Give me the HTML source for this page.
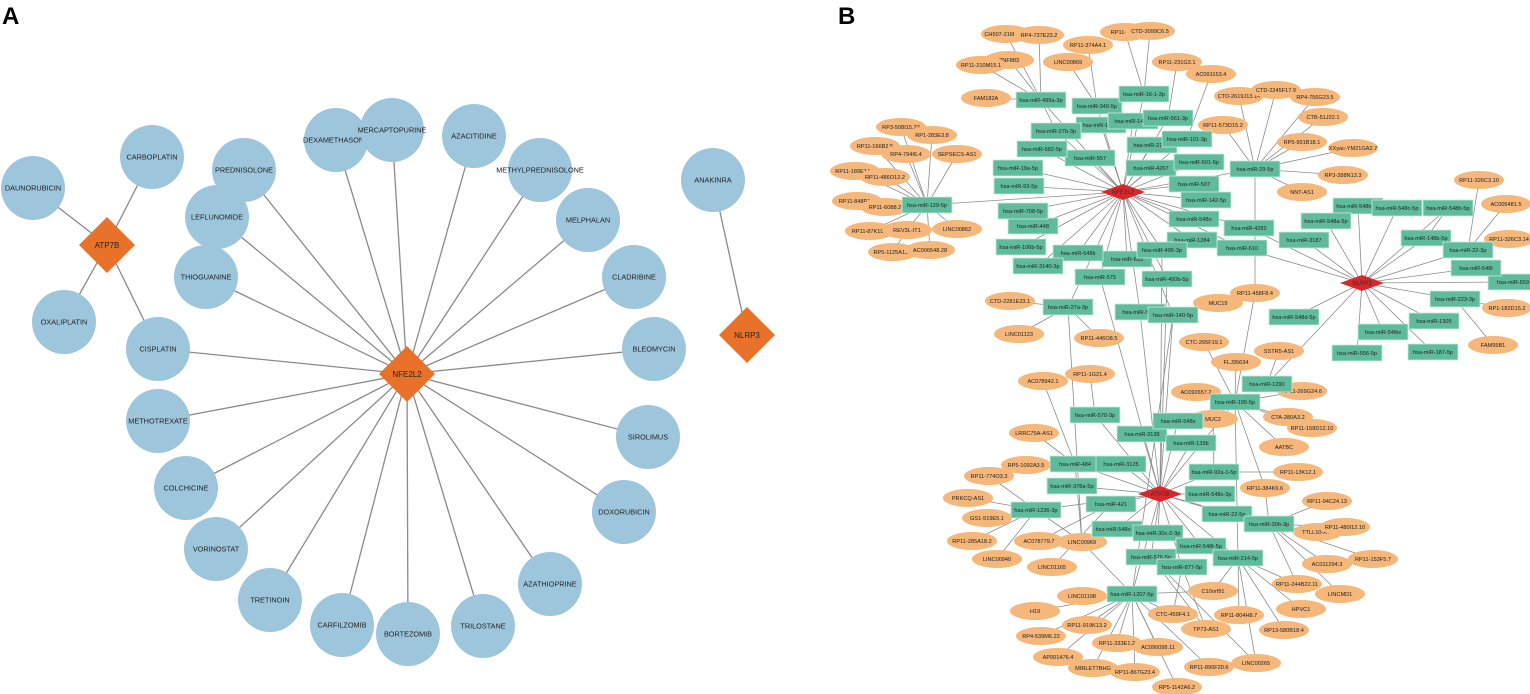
<!DOCTYPE html>
<html><head><meta charset="utf-8"><style>
html,body{margin:0;padding:0;background:#fff;}
svg{display:block;font-family:"Liberation Sans",Arial,sans-serif;}
</style></head><body>
<svg id="s" width="1530" height="694" xmlns="http://www.w3.org/2000/svg">
<text x="2" y="24" font-size="24" font-weight="bold">A</text>
<text x="838" y="24" font-size="24" font-weight="bold">B</text>
<g id="e"></g><g id="n"></g>
</svg>
<script>
const NS="http://www.w3.org/2000/svg";
const E=document.getElementById('e'),N=document.getElementById('n');
function el(t,a,p){const x=document.createElementNS(NS,t);for(const k in a)x.setAttribute(k,a[k]);p.appendChild(x);return x;}
function line(a,b,w,c){el('line',{x1:a[0],y1:a[1],x2:b[0],y2:b[1],stroke:c,'stroke-width':w},E);}
function txt(x,y,s,fs,col){const t=el('text',{x:x,y:y+fs*0.35,'font-size':fs,'text-anchor':'middle',fill:col||'#222'},N);t.textContent=s;}
// Panel A
const A={NFE2L2:[407,374],ATP7B:[107,245],NLRP3:[747,335],
DAUNORUBICIN:[33,188],CARBOPLATIN:[152,157],OXALIPLATIN:[64,322],CISPLATIN:[158,349],
DEXAMETHASONE:[336,140],MERCAPTOPURINE:[392,130],AZACITIDINE:[474,136],PREDNISOLONE:[244,170],
METHYLPREDNISOLONE:[540,170],LEFLUNOMIDE:[217,217],MELPHALAN:[588,220],THIOGUANINE:[206,277],
CLADRIBINE:[634,277],BLEOMYCIN:[654,349],METHOTREXATE:[158,421],SIROLIMUS:[648,437],
COLCHICINE:[186,488],DOXORUBICIN:[624,512],VORINOSTAT:[216,549],AZATHIOPRINE:[550,584],
TRETINOIN:[270,600],CARFILZOMIB:[342,625],BORTEZOMIB:[408,634],TRILOSTANE:[483,626],ANAKINRA:[713,180]};
for(const k in A){if(k=='NFE2L2'||k=='ATP7B'||k=='NLRP3'||k=='ANAKINRA')continue;
 if(['DAUNORUBICIN','CARBOPLATIN','OXALIPLATIN'].includes(k))line(A[k],A.ATP7B,1.3,'#8a8a8a');
 else line(A[k],A.NFE2L2,1.3,'#8a8a8a');}
line(A.CISPLATIN,A.ATP7B,1.3,'#8a8a8a');line(A.ANAKINRA,A.NLRP3,1.3,'#8a8a8a');
for(const k in A){const p=A[k];
 if(k=='NFE2L2'||k=='ATP7B'||k=='NLRP3'){const r=28;el('polygon',{points:`${p[0]},${p[1]-r} ${p[0]+r},${p[1]} ${p[0]},${p[1]+r} ${p[0]-r},${p[1]}`,fill:'#e8722a'},N);txt(p[0],p[1],k,8,'#222');}
 else{el('circle',{cx:p[0],cy:p[1],r:32,fill:'#9dc6dc'},N);txt(p[0],p[1],k,7.3);}}
// Panel B
const H={NFE2L2:[1123,192],NLRP3:[1362,283],ATP7B:[1160,494]};
const M={'499a-3p':[1041,100],'340-5p':[1097,106],'16-1-3p':[1144,94],'132-3':[1101,125],'144-3':[1133,121],'561-3p':[1168,118],'27b-3p':[1056,131],'582-5p':[1042,149],'212-3':[1152,145],'557':[1090,158],'4267':[1151,168],'19a-5p':[1018,168],'93-5p':[1019,186],'129-5p':[927,205],'708-5p':[1023,211],'448':[1033,226],'106b-5p':[1021,247],'548k':[1078,253],'633':[1127,259],'495-3p':[1162,250],'3140-3p':[1038,266],'575':[1100,277],'450b-5p':[1167,279],'27a-3p':[1068,307],'3182':[1140,312],'140-5p':[1173,315],
'101-3p':[1187,139],'501-5p':[1199,162],'29-5p':[1255,169],'507':[1194,184],'142-5p':[1206,200],'548n':[1194,219],'4282':[1249,228],'1284':[1192,240],'610':[1242,248],
'548h-5p':[1358,206],'548c-5p':[1397,208],'548b-5p':[1448,208],'548a-5p':[1326,221],'3187':[1304,240],'148b-5p':[1426,238],'22-3p':[1468,250],'548i':[1476,268],'559':[1513,282],'223-3p':[1455,299],'548d-5p':[1294,317],'1305':[1434,321],'548w':[1383,332],'556-5p':[1357,353],'187-5p':[1433,352],'1290':[1267,384],
'570-3p':[1095,415],'3138':[1142,434],'548s':[1178,421],'133b':[1191,443],'195-5p':[1235,402],'484':[1075,464],'3125':[1121,464],'92a-1-5p':[1214,472],'378a-5p':[1072,486],'548x-3p':[1210,494],'1236-3p':[1036,510],'421':[1111,504],'22-5p':[1227,514],'30b-3p':[1269,524],'548c-3p':[1117,529],'30c-2-3p':[1158,533],'548t-5p':[1201,546],'214-5p':[1238,558],'576-5p':[1151,557],'877-5p':[1182,567],'1207-5p':[1132,594]};
const L={'CH507-216K13.2':[1006,34],'RP4-737E23.2':[1039,35],'RP11-374A4.1':[1088,45],'RP11-50B3':[1125,32],'CTD-3099C6.5':[1150,31],'ZNF883':[1009,60],'RP11-210M15.1':[981,65],'LINC00869':[1068,62],'RP11-231G3.1':[1177,62],'FAM182A':[986,98],'RP3-508I15.22':[901,127],'RP1-283E3.8':[932,135],'RP11-166B2.5':[875,146],'RP4-794I6.4':[906,154],'SEPSECS-AS1':[957,154],'RP11-189E14.3':[855,171],'RP11-486O12.2':[885,177],'RP11-848P1.3':[857,201],'RP11-6088.2':[885,207],'RP11-87K19.3':[870,231],'REV3L-IT1':[907,230],'LINC00862':[957,229],'RP5-1125A11.7':[893,252],'AC006548.28':[930,250],'CTD-2281E23.1':[1010,301],'LINC01123':[1019,334],'RP11-446O8.5':[1099,338],
'AC091153.4':[1211,74],'CTD-2619J13.14':[1239,96],'CTD-2245F17.9':[1276,90],'RP4-756G23.5':[1315,97],'CTB-51J22.1':[1323,117],'RP11-573D15.2':[1223,125],'RP5-991B18.1':[1302,142],'XXyac-YM21GA2.7':[1353,148],'RP3-388N13.3':[1343,175],'NNT-AS1':[1302,192],'RP11-326C3.10':[1479,180],'AC005481.5':[1506,204],'RP11-326C3.14':[1509,239],'RP11-458F8.4':[1255,293],'MUC19':[1218,303],'RP1-182D15.2':[1507,308],'CTC-265F19.1':[1204,342],'FAM95B1':[1493,345],'SSTR5-AS1':[1279,351],'FLJ35634':[1236,362],'RP11-269G24.6':[1302,391],'AC092657.2':[1196,392],
'AC078942.1':[1043,381],'RP11-1G21.4':[1090,374],'MUC2':[1213,419],'CTA-280A3.2':[1288,417],'RP11-158D12.10':[1312,428],'AATBC':[1284,447],'LRRC75A-AS1':[1034,433],'RP5-1092A3.5':[1026,465],'RP11-774O3.3':[989,476],'RP11-13K12.1':[1298,472],'RP11-384K6.6':[1265,488],'PRKCQ-AS1':[968,498],'RP11-94C24.13':[1327,501],'GS1-519E5.1':[987,518],'TTLL10-AS1':[1318,532],'RP11-480I12.10':[1345,527],'RP11-153F5.7':[1373,559],'RP11-285A18.2':[972,541],'AC078779.7':[1039,541],'LINC00969':[1082,542],'AC011294.3':[1327,564],'LINC00940':[997,559],'LINC01165':[1052,567],'LINCMD1':[1340,594],'RP11-244B22.11':[1297,584],'LINC01198':[1082,596],'C10orf91':[1213,591],'H19':[1035,611],'HPVC1':[1301,609],'CTC-459F4.1':[1173,614],'RP11-804H8.7':[1239,615],'RP11-919K13.2':[1087,625],'TP73-AS1':[1206,629],'RP13-580B18.4':[1284,630],'RP4-539M6.22':[1041,636],'RP11-333E1.2':[1117,643],'AC090098.11':[1158,647],'AP001476.4':[1058,657],'LINC00265':[1256,663],'MIRLET7BHG':[1093,668],'RP11-867G23.4':[1135,672],'RP11-890F20.6':[1209,667],'RP5-1142A6.2':[1177,687]};
const hubE={NFE2L2:['499a-3p','340-5p','16-1-3p','132-3','144-3','561-3p','27b-3p','582-5p','212-3','557','4267','19a-5p','93-5p','129-5p','708-5p','448','106b-5p','548k','633','495-3p','3140-3p','575','450b-5p','27a-3p','3182','140-5p','101-3p','501-5p','29-5p','507','142-5p','548n','4282','1284','610'],
NLRP3:['4282','610','3187','548a-5p','548h-5p','548c-5p','148b-5p','548b-5p','22-3p','548i','559','223-3p','1305','187-5p','548w','556-5p','548d-5p','1290'],
ATP7B:['570-3p','3138','548s','133b','195-5p','484','3125','92a-1-5p','378a-5p','548x-3p','1236-3p','421','22-5p','30b-3p','548c-3p','30c-2-3p','548t-5p','214-5p','576-5p','877-5p','1207-5p','3182','140-5p','495-3p','450b-5p','575']};
const lE={'129-5p':['RP3-508I15.22','RP1-283E3.8','RP11-166B2.5','RP4-794I6.4','SEPSECS-AS1','RP11-189E14.3','RP11-486O12.2','RP11-848P1.3','RP11-6088.2','RP11-87K19.3','REV3L-IT1','LINC00862','AC006548.28'],
'499a-3p':['CH507-216K13.2','RP4-737E23.2','ZNF883','RP11-210M15.1','FAM182A','27b-3p'],'340-5p':['RP11-374A4.1','LINC00869'],'16-1-3p':['RP11-50B3','CTD-3099C6.5'],'561-3p':['RP11-231G3.1'],'101-3p':['AC091153.4'],
'29-5p':['CTD-2619J13.14','CTD-2245F17.9','RP4-756G23.5','CTB-51J22.1','RP11-573D15.2','RP5-991B18.1','XXyac-YM21GA2.7','RP3-388N13.3','NNT-AS1','RP11-458F8.4'],
'22-3p':['RP11-326C3.10','AC005481.5','RP11-326C3.14'],'223-3p':['RP1-182D15.2','FAM95B1'],'148b-5p':['548b-5p'],
'27a-3p':['CTD-2281E23.1','LINC01123','RP11-446O8.5','LINC00969'],'140-5p':['MUC19','1207-5p'],
'195-5p':['FLJ35634','AC092657.2','MUC2','RP11-269G24.6','CTA-280A3.2','RP11-158D12.10','AATBC','RP11-384K6.6','RP11-458F8.4','CTC-265F19.1','214-5p'],'1290':['SSTR5-AS1','RP11-269G24.6'],
'570-3p':['RP11-1G21.4'],'484':['AC078942.1','LRRC75A-AS1','RP5-1092A3.5','LINC00969'],
'1236-3p':['RP11-774O3.3','PRKCQ-AS1','GS1-519E5.1','RP11-285A18.2','LINC00940','LINC00969'],'421':['AC078779.7','LINC01165'],'92a-1-5p':['RP11-13K12.1','MUC2'],
'30b-3p':['RP11-94C24.13','TTLL10-AS1','RP11-480I12.10','RP11-153F5.7','AC011294.3','LINCMD1','RP11-244B22.11','RP11-384K6.6'],
'214-5p':['C10orf91','HPVC1','RP11-804H8.7','RP13-580B18.4','LINC00265','RP11-244B22.11'],
'1207-5p':['LINC01198','H19','RP11-919K13.2','RP4-539M6.22','AP001476.4','RP11-333E1.2','MIRLET7BHG','RP11-867G23.4','AC090098.11','RP5-1142A6.2','RP11-890F20.6','CTC-459F4.1','C10orf91','LINC00969'],
'877-5p':['TP73-AS1','CTC-459F4.1'],'576-5p':['TP73-AS1','LINC00265']};
const P=k=>H[k]||M[k]||L[k];
const ec='#8c8c8c';
for(const h in hubE)hubE[h].forEach(m=>line(H[h],M[m],0.8,ec));
for(const m in lE)lE[m].forEach(l=>line(M[m],P(l),0.8,ec));
line(L['REV3L-IT1'],L['RP5-1125A11.7'],0.8,ec);
for(const k in L){const p=L[k];el('ellipse',{cx:p[0],cy:p[1],rx:25,ry:9,fill:'#f5b77a'},N);txt(p[0],p[1],k,5.6);}
for(const k in M){const p=M[k];el('rect',{x:p[0]-25,y:p[1]-8,width:50,height:16,fill:'#5fbb9c',stroke:'#c8eadc','stroke-width':0.8},N);txt(p[0],p[1],'hsa-miR-'+k,5.6);}
for(const k in H){const p=H[k];el('polygon',{points:`${p[0]},${p[1]-8} ${p[0]+22},${p[1]} ${p[0]},${p[1]+8} ${p[0]-22},${p[1]}`,fill:'#d9262a'},N);txt(p[0],p[1],k,6,'#333');}
</script>
</body></html>
